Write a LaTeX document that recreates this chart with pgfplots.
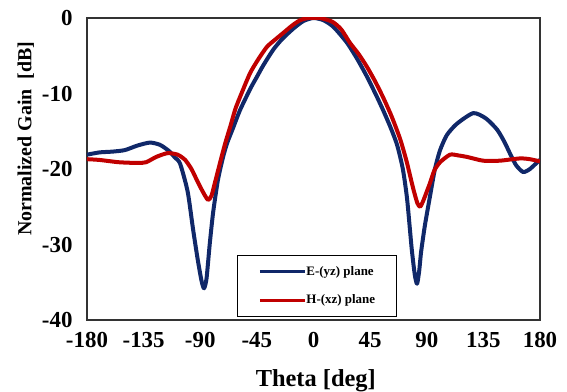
\documentclass[border=0pt]{standalone}
\usepackage{fontspec}
\setmainfont{Liberation Serif}
\usepackage{pgfplots}
\pgfplotsset{compat=1.18}
\definecolor{eblue}{RGB}{16,40,105}
\definecolor{hred}{RGB}{192,0,0}
\begin{document}
\begin{tikzpicture}
\useasboundingbox (-87bp,-72bp) rectangle (480bp,320bp);
\begin{axis}[
  scale only axis, width=453bp, height=302bp,
  xmin=-180, xmax=180, ymin=-40, ymax=0,
  xtick={-180,-135,...,180}, ytick={-40,-30,...,0},
  major tick length=0pt,
  axis line style={line width=1.2bp, black!80},
  /pgf/number format/assume math mode=true,
  tick label style={font=\fontsize{23}{26}\selectfont\bfseries},
  yticklabel style={xshift=-11bp},
  xticklabel style={yshift=-9bp},
  xlabel={Theta [deg]}, ylabel={Normalized Gain\ \ [dB]},
  xlabel style={font=\fontsize{24.5}{27}\selectfont\bfseries, at={(axis description cs:0.505,-0.2)}, anchor=center},
  ylabel style={font=\fontsize{20}{23}\selectfont\bfseries, at={(axis description cs:-0.135,0.6)}, anchor=center},
  legend style={at={(rel axis cs:0.331,0.01)}, anchor=south west, draw=black, line width=1bp,
    inner xsep=21bp, inner ysep=11bp, row sep=18bp,
    font=\fontsize{13}{14}\selectfont\bfseries, nodes={inner sep=0pt}},
  legend cell align=left,
  legend image code/.code={\draw[#1, line width=3bp] (0bp,0bp) -- (45bp,0bp);},
]
\addplot[eblue, line width=4bp, smooth, tension=0.4, line join=round] coordinates {
(-180,-18.1) (-170,-17.8) (-160,-17.7) (-150,-17.5) (-140,-16.9) (-130,-16.5)
(-122,-16.8) (-115,-17.6) (-110,-18.5) (-106,-19.3) (-100,-23) (-95.7,-28)
(-92,-32) (-89,-34.8) (-87,-35.8) (-85,-34.5) (-82.5,-30) (-79.8,-25.8)
(-76,-21.5) (-72,-18.5) (-68.7,-16.6) (-64,-14.6) (-58.4,-12.2) (-50,-9.3)
(-45,-7.8) (-40,-6.3) (-32,-4.2) (-25,-2.8) (-16,-1.4) (-8,-0.4) (0,0) (8,-0.3)
(16,-1.2) (26.7,-3.3) (35,-5.5) (42.6,-7.8) (50,-10.3) (55.3,-12.2) (61,-14.4)
(66.4,-16.8) (71,-20) (74.4,-24) (78,-30.5) (80.5,-34) (82.3,-35.2) (84,-33.5)
(85.5,-31) (88.5,-27.5) (92.7,-23.5) (96.5,-20) (100.6,-17.5) (106,-15.5)
(114,-14) (127,-12.6) (137,-13.3) (146,-14.8) (152,-16.5) (156,-17.9)
(161,-19.5) (166.6,-20.4) (172,-20) (178.5,-19) (180,-18.8)
};
\addlegendentry{E-(yz) plane}
\addplot[hred, line width=4bp, smooth, tension=0.4, line join=round] coordinates {
(-180,-18.7) (-170,-18.8) (-155,-19.1) (-140,-19.2) (-133,-19.1) (-125,-18.4)
(-116,-17.9) (-108,-18.1) (-102,-18.8) (-97,-20) (-92.6,-21.5) (-88,-23)
(-83.8,-24.1) (-81,-23.5) (-78,-21.6) (-74,-19) (-70,-16.5) (-66,-14.3)
(-62,-12) (-57,-9.9) (-50.4,-7.3) (-44,-5.5) (-36.9,-3.8)
(-30,-2.8) (-24.2,-2) (-17,-1) (-10.7,-0.3) (-4,0) (5.2,0) (15,-0.5) (22,-1.5)
(29,-3.3) (36,-4.8) (42.6,-6.5) (49,-8.4) (55.3,-10.5) (62,-13) (68.8,-16)
(74,-19) (79.1,-22.5) (82.5,-24.5) (84.7,-25) (87,-24.3) (90,-23) (92.7,-21.8)
(96,-20.2) (100.6,-19.1) (108.5,-18.1) (115,-18.2) (122,-18.4) (134.8,-18.9)
(148,-18.9) (164,-18.6) (172,-18.7) (180,-19)
};
\addlegendentry{H-(xz) plane}
\end{axis}
\end{tikzpicture}
\end{document}
